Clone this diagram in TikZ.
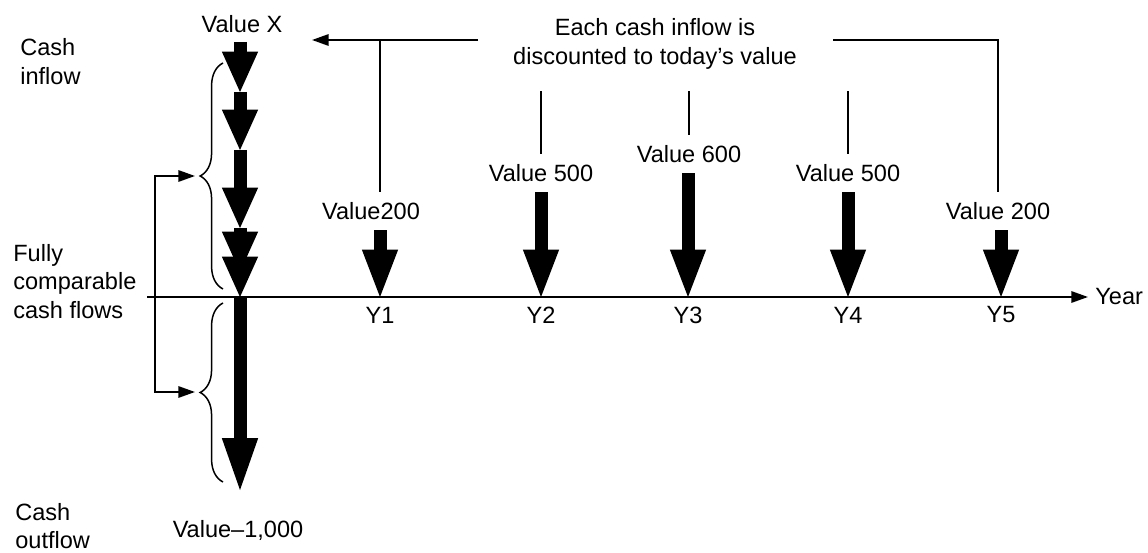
\documentclass[tikz,border=0pt]{standalone}
\usepackage{fontspec}
\setmainfont{Liberation Sans}
\usetikzlibrary{arrows.meta, positioning, decorations.pathreplacing}

\begin{document}
\begin{tikzpicture}[x=0.02cm, y=-0.02cm, >={Triangle[width=6.5pt, length=9.5pt]},
    every node/.style={font=\fontsize{13.4}{16.4}\selectfont, inner sep=0pt},
    lbl/.style={align=left, anchor=west},
    val/.style={outer ysep=6pt},
    conn/.style={line width=1.1pt},
    fat/.style={line width=7.4pt, -{Triangle[width=20.7pt, length=27pt, line width=0pt]}},
    colfat/.style={line width=7.4pt, -{Triangle[width=20.7pt, length=23pt, line width=0pt]}},
    outfat/.style={line width=7.4pt, -{Triangle[width=20.7pt, length=29.5pt, line width=0pt]}},
    brc/.style={line width=0.85pt, decorate, decoration={brace, amplitude=13pt}}]
  \useasboundingbox (0,0) rectangle (1148,553);

  % time axis and years
  \coordinate (o) at (147,297);
  \coordinate (t0) at (240,297);
  \node[anchor=west] (year) at (1095,297) {Year};
  \draw[conn, ->] (o) -- (year.west) [shorten >=4pt];
  \foreach \i/\x in {1/380, 2/541, 3/688, 4/848, 5/1001} {
    \coordinate (t\i) at (\x,297);
    \node (y\i) at (\x,315) {Y\i};
  }

  % cash inflows per year
  \foreach \i/\x/\y/\v in {1/371/211/Value200, 2/541/173/Value 500, 3/689/154/Value 600,
                           4/848/173/Value 500, 5/998/211/Value 200} {
    \node[val] (v\i) at (\x,\y) {\v};
    \draw[fat] (t\i |- v\i.south) -- (t\i);
  }

  % discounting
  \node[align=center] (note) at (655,44) {Each cash inflow is\\discounted to today’s value};
  \coordinate (hl) at (478,40);
  \coordinate (hr) at (833,40);
  \coordinate (pv) at (312,40);
  \draw[conn, ->] (hl) -- (pv);
  \draw[conn] (t1 |- v1.north) -- (t1 |- hl);
  \foreach \i in {2,3,4}
    \draw[conn] (v\i.north) -- (v\i.north |- 0,91);
  \draw[conn] (hr) -| (v5.north);

  % today: stacked present values and the outflow
  \node (vx) at (242,24) {Value X};
  \foreach \a/\b in {42/92, 92/150, 150/228, 228/272, 250/297}
    \draw[colfat] (240,\a) -- (240,\b);
  \coordinate (tout) at (240,490);
  \draw[outfat] (t0) -- (tout);
  \node (vout) at (238,530) {Value–1,000};

  % braces and comparison bracket
  \draw[brc] (223,289) -- (223,63);
  \draw[brc] (223,482) -- (223,303);
  \coordinate (bu) at (195,176);
  \coordinate (bl) at (195,392);
  \draw[conn, <->] (bu) -- ++(-40,0) |- (bl);

  % side labels
  \node[lbl] (cin) at (20,61.5) {Cash\\inflow};
  \node[lbl] (full) at (13,281.5) {Fully\\comparable\\cash flows};
  \node[lbl] (cout) at (15,526) {Cash\\outflow};
\end{tikzpicture}
\end{document}
